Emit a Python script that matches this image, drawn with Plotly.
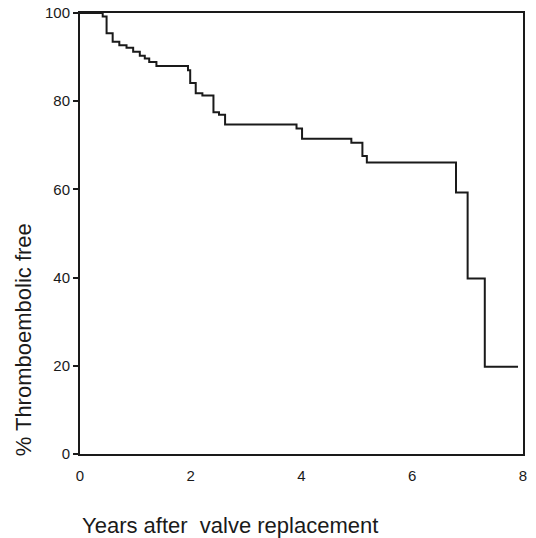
import plotly.graph_objects as go

# Kaplan-Meier estimate
years = [0.0, 0.41, 0.48, 0.59, 0.71, 0.84, 0.96, 1.08, 1.17, 1.25, 1.38,
         1.95, 1.99, 2.09, 2.21, 2.41, 2.51, 2.62, 3.91, 4.01, 4.90, 5.10,
         5.18, 6.79, 7.00, 7.31, 7.91]
free_pct = [100.0, 99.2, 95.4, 93.5, 92.7, 92.1, 91.2, 90.3, 89.7, 88.9, 88.0,
            87.0, 84.1, 81.8, 81.3, 77.5, 76.9, 74.7, 73.8, 71.5, 70.6, 67.6,
            66.1, 59.3, 39.8, 19.8, 19.8]

x_ticks = [0, 2, 4, 6, 8]
y_ticks = [0, 20, 40, 60, 80, 100]
x_title = "Years after\u00a0 valve replacement"
y_title = "% Thromboembolic free"

font_family = "Liberation Sans, Arial, sans-serif"
ink = "#1a1a1a"

fig = go.Figure()
fig.add_trace(go.Scatter(
    x=years, y=free_pct, mode="lines",
    line=dict(shape="hv", color=ink, width=2),
    showlegend=False, hoverinfo="skip",
))

fig.update_layout(
    width=528, height=530,
    margin=dict(l=72, r=13, t=5, b=84, autoexpand=False),
    paper_bgcolor="white", plot_bgcolor="white",
    font=dict(family=font_family, color=ink, size=15),
    xaxis=dict(
        range=[0, 8], tickvals=x_ticks, ticktext=[str(v) for v in x_ticks],
        showgrid=False, zeroline=False, automargin=False,
        showline=True, linecolor=ink, linewidth=2, mirror=True,
        ticks="", ticklabelstandoff=7, ticklabeloverflow="allow",
        tickfont=dict(size=15, color=ink),
    ),
    yaxis=dict(
        range=[0, 100], tickvals=y_ticks, ticktext=[str(v) for v in y_ticks],
        showgrid=False, zeroline=False, automargin=False,
        showline=True, linecolor=ink, linewidth=2, mirror=True,
        ticks="outside", ticklen=5, tickwidth=1.5, tickcolor=ink,
        ticklabeloverflow="allow",
        tickfont=dict(size=15, color=ink),
    ),
    annotations=[
        dict(text=x_title, xref="paper", yref="paper", x=0.0, y=-0.163,
             xanchor="left", yanchor="middle", showarrow=False,
             font=dict(size=22, color=ink, family=font_family)),
        dict(text=y_title, xref="paper", yref="paper", x=-0.1287, y=0.26,
             xanchor="center", yanchor="middle", textangle=-90, showarrow=False,
             font=dict(size=22, color=ink, family=font_family)),
    ],
)

fig.write_html("out.html")
